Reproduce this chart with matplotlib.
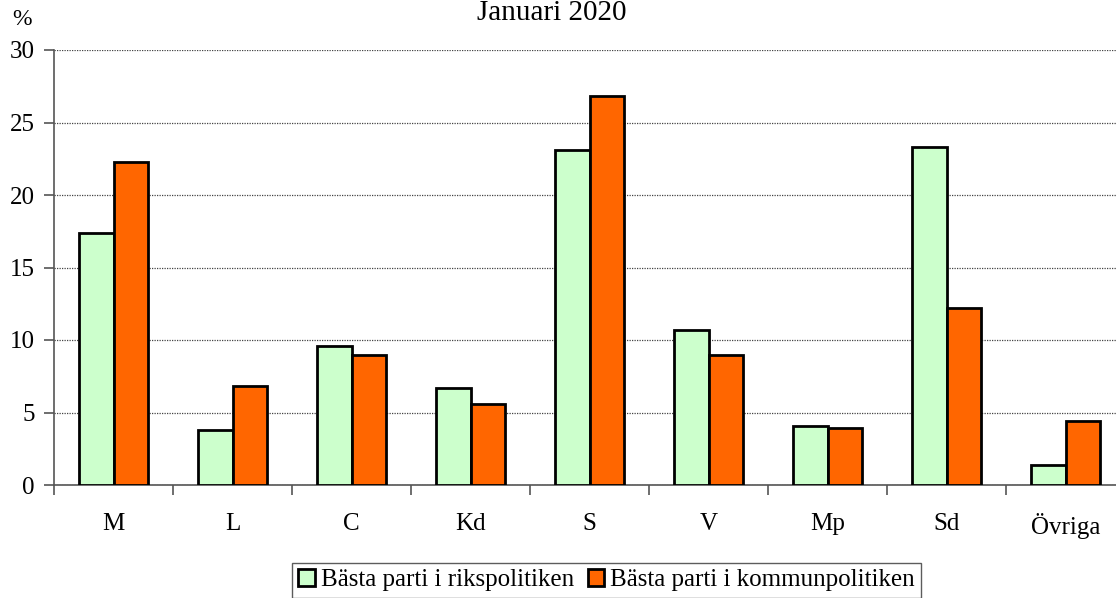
import matplotlib.pyplot as plt
import numpy as np

plt.rcParams['font.family'] = ['Liberation Serif', 'DejaVu Serif']

partier = ['M', 'L', 'C', 'Kd', 'S', 'V', 'Mp', 'Sd', 'Övriga']
riks = [17.4, 3.8, 9.6, 6.7, 23.1, 10.7, 4.1, 23.3, 1.4]
kommun = [22.3, 6.8, 9.0, 5.6, 26.8, 9.0, 3.9, 12.2, 4.4]
serier = ['Bästa parti i rikspolitiken', 'Bästa parti i kommunpolitiken']

fig = plt.figure(figsize=(11.16, 5.98), dpi=100)
# axes extend a little past the right edge, like the original
ax = fig.add_axes([54 / 1116, 1 - 485 / 598, 1071 / 1116, 435 / 598])

x = np.arange(len(partier))
w = 0.29
b1 = ax.bar(x - w / 2, riks, w, color='#ccffcc', edgecolor='black', linewidth=2, zorder=3)
b2 = ax.bar(x + w / 2, kommun, w, color='#ff6600', edgecolor='black', linewidth=2, zorder=3)

ax.set_xlim(-0.5, len(partier) - 0.5)
ax.set_ylim(0, 30)
ax.set_yticks(range(0, 31, 5))
ax.yaxis.grid(True, linestyle=(0, (1, 1)), color='#444444', linewidth=0.9, zorder=0)

ax.set_xticks(x)
ax.set_xticklabels(partier, fontsize=18)
ax.set_xticks(np.arange(-0.5, len(partier)), minor=True)
ax.tick_params(axis='x', which='major', length=0, pad=20)
ax.tick_params(axis='x', which='minor', length=7, color='#555555', width=1.2)
ax.tick_params(axis='y', length=7, color='#555555', width=1.2, labelsize=18, pad=7)

for s in ['top', 'right']:
    ax.spines[s].set_visible(False)
for s in ['left', 'bottom']:
    ax.spines[s].set_color('#555555')
    ax.spines[s].set_linewidth(1.2)

# title sits at the very top edge, as in the original
fig.text(552 / 1116, 1 - 20 / 598, 'Januari 2020', ha='center', va='baseline', fontsize=21)
fig.text(12 / 1116, 1 - 25 / 598, '%', ha='left', va='baseline', fontsize=17)

leg = fig.legend([b1, b2], serier, loc='upper left', bbox_to_anchor=(292 / 1116, 1 - 563 / 598),
                 ncol=2, fontsize=18, frameon=True, fancybox=False, edgecolor='#333333',
                 handlelength=0.65, handleheight=0.65, handletextpad=0.25, columnspacing=0.55,
                 borderpad=0.25, borderaxespad=0)
leg.get_frame().set_linewidth(1)

fig.savefig('out.png', dpi=100)
